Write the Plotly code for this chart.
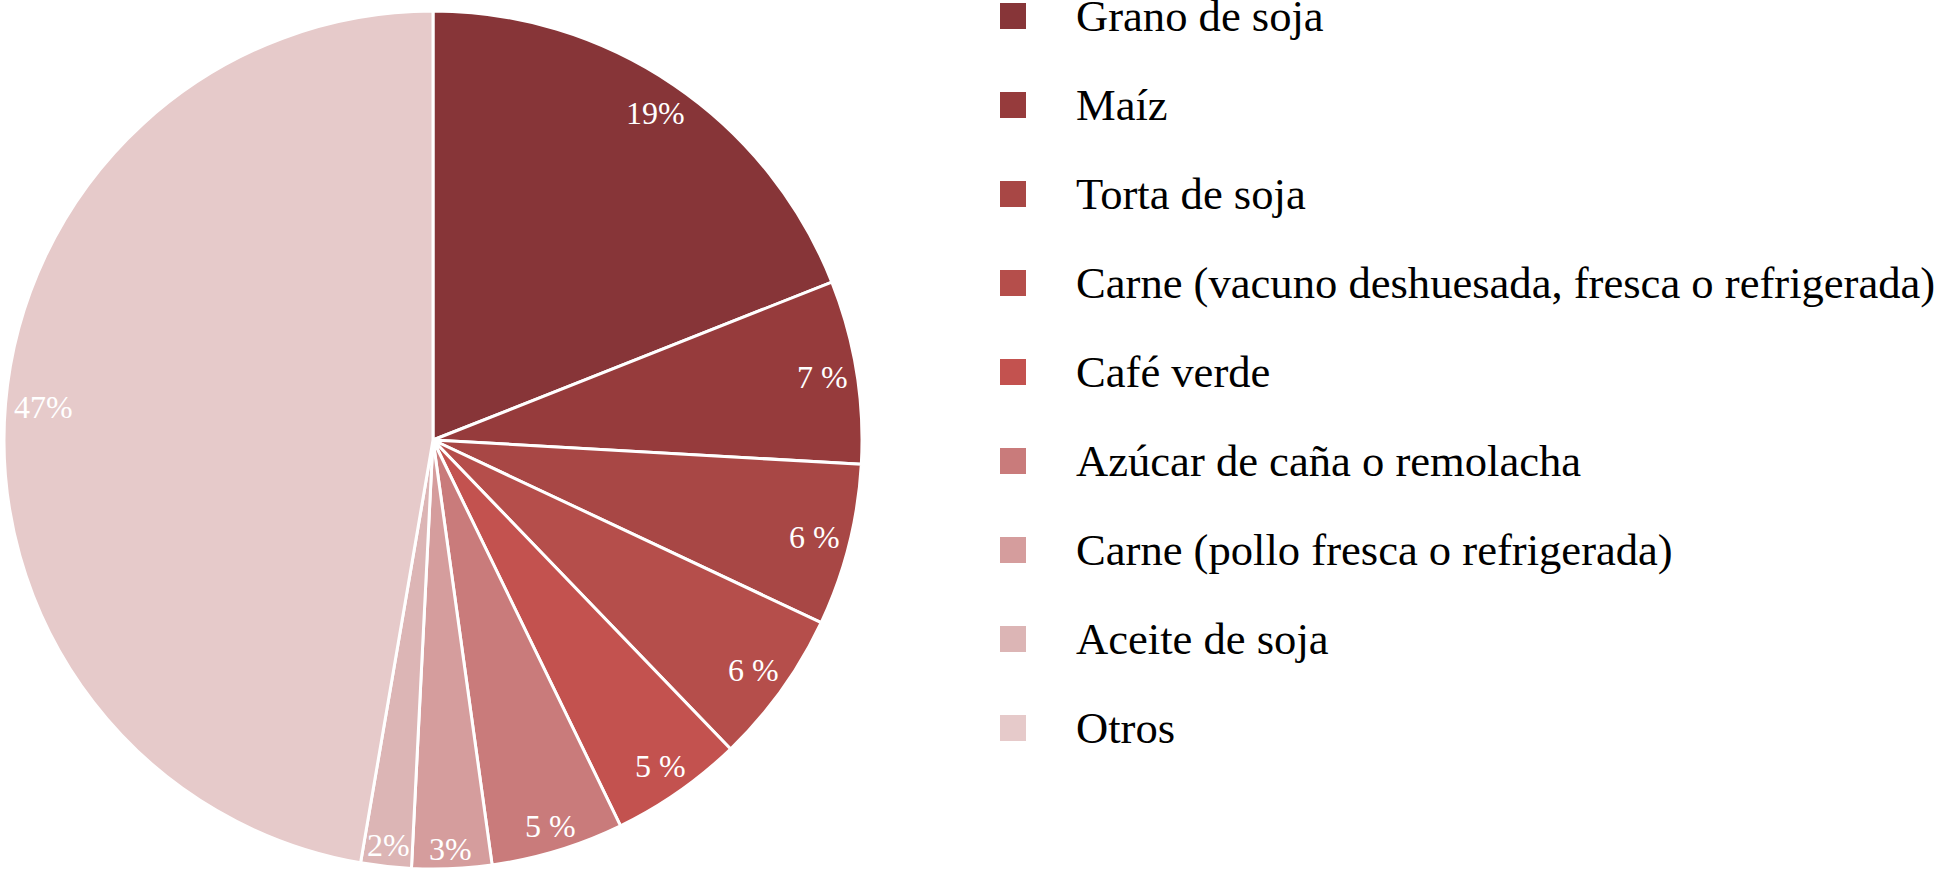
import math
import plotly.graph_objects as go

categories = [
    "Grano de soja",
    "Maíz",
    "Torta de soja",
    "Carne (vacuno deshuesada, fresca o refrigerada)",
    "Café verde",
    "Azúcar de caña o remolacha",
    "Carne (pollo fresca o refrigerada)",
    "Aceite de soja",
    "Otros",
]
shares = [19.0, 6.9, 6.1, 5.8, 5.0, 5.0, 3.0, 1.9, 47.3]
share_labels = ["19%", "7 %", "6 %", "6 %", "5 %", "5 %", "3%", "2%", "47%"]
colors = [
    "#873538", "#963b3c", "#a84745", "#b54e4b", "#c3524f",
    "#c97b7b", "#d59d9d", "#dcb5b5", "#e6caca",
]

W, H = 1940, 876
FONT = "Liberation Serif"
LABEL_SIZE = 32
LEGEND_SIZE = 44.6

# pie geometry in pixels (cy counted from the bottom)
cx, cy, r = 433, 436, 429
label_inset = 8  # gap between label box and pie edge

# legend geometry in pixels
leg_top, leg_step = 16, 89
leg_marker_x, leg_text_x = 1013, 1074

# rough Times-like advance widths (em) to size the label boxes
_adv = {"%": 0.833, " ": 0.25}


def half_box(txt):
    w = sum(_adv.get(ch, 0.5) for ch in txt) * LABEL_SIZE / 2
    h = 0.34 * LABEL_SIZE
    return w, h


fig = go.Figure()
fig.add_trace(
    go.Pie(
        labels=categories,
        values=shares,
        sort=False,
        direction="clockwise",
        rotation=0,
        marker=dict(colors=colors, line=dict(color="white", width=3)),
        textinfo="none",
        hoverinfo="label+percent",
        showlegend=False,
        domain=dict(
            x=[max(0, (cx - r) / W), min(1, (cx + r) / W)],
            y=[max(0, (cy - r) / H), min(1, (cy + r) / H)],
        ),
    )
)

# percentage labels: on the slice's middle angle, pushed out until the
# label box sits just inside the rim
total = sum(shares)
acc = 0
for val, txt in zip(shares, share_labels):
    mid = (acc + val / 2) / total * 2 * math.pi
    acc += val
    w, h = half_box(txt)
    d = r - label_inset - (w * abs(math.sin(mid)) + h * abs(math.cos(mid)))
    fig.add_annotation(
        xref="paper", yref="paper",
        x=(cx + d * math.sin(mid)) / W,
        y=(cy + d * math.cos(mid)) / H,
        text=txt, showarrow=False,
        xanchor="center", yanchor="middle",
        font=dict(family=FONT, size=LABEL_SIZE, color="white"),
    )

# legend drawn by hand so the row spacing can match
rows = list(range(len(categories)))
fig.add_trace(
    go.Scatter(
        x=[leg_marker_x] * len(rows),
        y=rows,
        mode="markers",
        marker=dict(symbol="square", size=26, color=colors, line=dict(width=0)),
        hoverinfo="skip",
        showlegend=False,
        cliponaxis=False,
    )
)
for i, name in zip(rows, categories):
    fig.add_annotation(
        xref="x", yref="y", x=leg_text_x, y=i,
        text=name, showarrow=False,
        xanchor="left", yanchor="middle",
        font=dict(family=FONT, size=LEGEND_SIZE, color="black"),
    )

fig.update_layout(
    width=W,
    height=H,
    margin=dict(l=0, r=0, t=0, b=0),
    paper_bgcolor="white",
    plot_bgcolor="rgba(0,0,0,0)",
    xaxis=dict(visible=False, range=[0, W], domain=[0, 1], fixedrange=True),
    yaxis=dict(
        visible=False,
        range=[(H - leg_top) / leg_step, -leg_top / leg_step],
        domain=[0, 1],
        fixedrange=True,
    ),
    showlegend=False,
)

# drop the default 8px body margin so the figure fills the window
fig.write_html(
    "out.html",
    config={"displayModeBar": False},
    post_script="document.body.style.margin='0';document.body.style.overflow='hidden';",
)
